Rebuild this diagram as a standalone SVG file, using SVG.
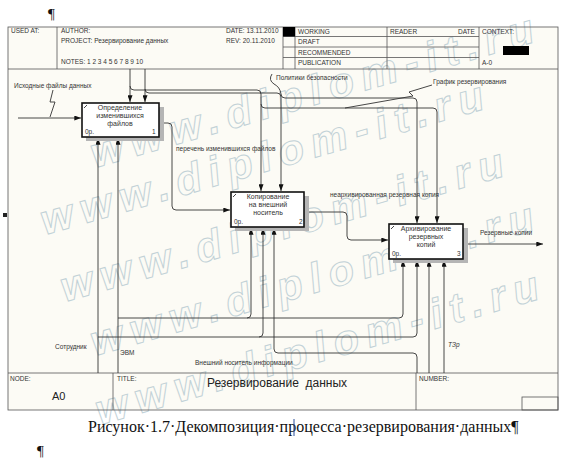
<svg xmlns="http://www.w3.org/2000/svg" width="575" height="460" viewBox="0 0 575 460">
<defs>
<marker id="ah" viewBox="0 0 8 6" refX="8" refY="3" markerWidth="7" markerHeight="5" orient="auto" markerUnits="userSpaceOnUse"><path d="M0,0 L8,3 L0,6 z" fill="#111"/></marker>
</defs>
<style>
.t{font-family:"Liberation Sans",Arial,sans-serif;font-size:6.5px;fill:#333}
.bx{font-family:"Liberation Sans",Arial,sans-serif;font-size:7px;fill:#333;text-anchor:middle}
.ln{fill:none;stroke:#333;stroke-width:0.9}
.ar{marker-end:url(#ah)}
.box{fill:#fff;stroke:#111;stroke-width:1.6}
.sh{fill:#b5b5b5}
.fr{fill:none;stroke:#555;stroke-width:0.8}
.wm{font-family:"Liberation Sans",Arial,sans-serif;font-weight:bold;font-style:italic;font-size:42px;letter-spacing:8px;fill:none;stroke:#b3c8d0;stroke-width:1}
.pg{font-family:"Liberation Serif","Times New Roman",serif;fill:#111}
</style>
<rect x="0" y="0" width="575" height="460" fill="#ffffff"/>
<rect x="8" y="27" width="550" height="383" fill="#fcfbf5"/>

<!-- watermark -->
<g id="watermark" opacity="0.8">
<text class="wm" transform="translate(95,168) rotate(-16)">www.diplom-it.ru</text>
<text class="wm" transform="translate(45,235) rotate(-16)">www.diplom-it.ru</text>
<text class="wm" transform="translate(65,302) rotate(-16)">www.diplom-it.ru</text>
<text class="wm" transform="translate(95,356) rotate(-16)">www.diplom-it.ru</text>
<text class="wm" transform="translate(100,425) rotate(-16)">www.diplom-it.ru</text>
</g>

<!-- frame / header -->
<g id="header">
<rect class="fr" x="8" y="27" width="550" height="383"/>
<line class="fr" x1="8" y1="69" x2="558" y2="69"/>
<line class="fr" x1="57" y1="27" x2="57" y2="69"/>
<line class="fr" x1="283" y1="27" x2="283" y2="69"/>
<line class="fr" x1="295" y1="27" x2="295" y2="69"/>
<line class="fr" x1="387" y1="27" x2="387" y2="69"/>
<line class="fr" x1="479" y1="27" x2="479" y2="69"/>
<line class="fr" x1="283" y1="36.5" x2="479" y2="36.5"/>
<line class="fr" x1="283" y1="47" x2="479" y2="47"/>
<line class="fr" x1="283" y1="57.5" x2="479" y2="57.5"/>
<rect x="283" y="27" width="12" height="9.5" fill="#000"/>
<rect x="503" y="46" width="26" height="9" fill="#000"/>
<text class="t" x="11" y="33">USED AT:</text>
<text class="t" x="61" y="33">AUTHOR:</text>
<text class="t" x="61" y="43">PROJECT:  Резервирование данных</text>
<text class="t" x="61" y="64">NOTES:  1  2  3  4  5  6  7  8  9  10</text>
<text class="t" x="226" y="33">DATE:  13.11.2010</text>
<text class="t" x="226" y="43">REV:   20.11.2010</text>
<text class="t" x="298" y="34">WORKING</text>
<text class="t" x="298" y="44">DRAFT</text>
<text class="t" x="298" y="55">RECOMMENDED</text>
<text class="t" x="298" y="65">PUBLICATION</text>
<text class="t" x="390" y="34">READER</text>
<text class="t" x="458" y="34">DATE</text>
<text class="t" x="482" y="34">CONTEXT:</text>
<text class="t" x="482" y="65">A-0</text>
</g>

<!-- footer -->
<g id="footer">
<line class="fr" x1="8" y1="373" x2="558" y2="373"/>
<line class="fr" x1="113" y1="373" x2="113" y2="410"/>
<line class="fr" x1="416" y1="373" x2="416" y2="410"/>
<rect class="fr" x="522" y="397" width="36" height="13"/>
<text class="t" x="10" y="381">NODE:</text>
<text class="t" x="117" y="381">TITLE:</text>
<text class="t" x="419" y="381">NUMBER:</text>
<text x="52" y="400" style="font-family:'Liberation Sans',Arial,sans-serif;font-size:11px;fill:#222">A0</text>
<text x="277" y="387" text-anchor="middle" style="font-family:'Liberation Sans',Arial,sans-serif;font-size:12px;fill:#222" xml:space="preserve">Резервирование  данных</text>
</g>

<!-- connectors -->
<g id="connectors">
<path class="ln ar" d="M18,118 H81"/>
<path class="ln" d="M53,90 L50,102 L55,102 L50,117"/>
<path class="ln ar" d="M130,69 V102"/>
<path class="ln ar" d="M145,69 V102"/>
<path class="ln ar" d="M130,86 Q130,90 134,90 H257 Q261,90 261,94 V191"/>
<path class="ln ar" d="M145,89 Q145,93 149,93 H277 Q281,93 281,97 V191"/>
<path class="ln ar" d="M281,94 Q281,98 285,98 H413 Q417,98 417,102 V223"/>
<path class="ln ar" d="M261,104 Q261,108 265,108 H433 Q437,108 437,112 V223"/>
<path class="ln" d="M272,74 Q268,80 274,84 Q280,87 281,94"/>
<path class="ln" d="M432,85 L409,92 L413,96 L345,108"/>
<path class="ln ar" d="M159,123 H168 Q172,123 172,127 V206 Q172,210 176,210 H230"/>
<path class="ln ar" d="M304,212 H343 Q347,212 347,216 V236 Q347,240 351,240 H388"/>
<path class="ln ar" d="M463,244 H543"/>
<path class="ln ar" d="M98,373 V138"/>
<path class="ln ar" d="M118,373 V138"/>
<path class="ln ar" d="M118,318 H399 Q403,318 403,314 V260"/>
<path class="ln ar" d="M247,318 Q251,318 251,314 V228"/>
<path class="ln ar" d="M98,337 H413 Q417,337 417,333 V260"/>
<path class="ln ar" d="M259,337 Q263,337 263,333 V228"/>
<path class="ln ar" d="M417,373 V357 Q417,353 413,353 H278 Q274,353 274,349 V228"/>
<path class="ln ar" d="M429,373 V260"/>
<path class="ln ar" d="M444,373 V260"/>
<text class="t" x="14" y="88">Исходные файлы данных</text>
<text class="t" x="276" y="80">Политики безопасности</text>
<text class="t" x="433" y="84">График резервирования</text>
<text class="t" x="176" y="151">перечень изменившихся файлов</text>
<text class="t" x="330" y="197">неархивированная резервная копия</text>
<text class="t" x="480" y="235">Резервные копии</text>
<text class="t" x="55" y="349">Сотрудник</text>
<text class="t" x="120" y="355">ЭВМ</text>
<text class="t" x="195" y="365">Внешний носитель информации</text>
<text class="t" x="448" y="347" font-style="italic">ТЗр</text>
</g>

<!-- boxes -->
<g id="box1">
<rect class="sh" x="86" y="107" width="78" height="34"/>
<rect class="box" x="82" y="103" width="77" height="34"/>
<path class="ln" d="M84,108 L87,105"/>
<text class="bx" x="120" y="110">Определение</text>
<text class="bx" x="120" y="118">изменившихся</text>
<text class="bx" x="120" y="126">файлов</text>
<text class="t" x="85" y="134">0р.</text>
<text class="t" x="152" y="134">1</text>
</g>
<g id="box2">
<rect class="sh" x="235" y="196" width="74" height="35"/>
<rect class="box" x="231" y="192" width="73" height="35"/>
<path class="ln" d="M233,197 L236,194"/>
<text class="bx" x="268" y="199">Копирование</text>
<text class="bx" x="268" y="207">на внешний</text>
<text class="bx" x="268" y="215">носитель</text>
<text class="t" x="234" y="224">0р.</text>
<text class="t" x="299" y="224">2</text>
</g>
<g id="box3">
<rect class="sh" x="393" y="228" width="75" height="35"/>
<rect class="box" x="389" y="224" width="74" height="35"/>
<path class="ln" d="M391,229 L394,226"/>
<text class="bx" x="426" y="231">Архивирование</text>
<text class="bx" x="426" y="239">резервных</text>
<text class="bx" x="426" y="247">копий</text>
<text class="t" x="392" y="256">0р.</text>
<text class="t" x="457" y="256">3</text>
</g>

<!-- document marks -->
<g id="page">
<text class="pg" x="48" y="19" font-size="15">¶</text>
<rect x="3" y="213" width="4" height="4" fill="#222"/>
<text class="pg" x="88" y="432" font-size="16">Рисунок·1.7·Декомпозиция·процесса·резервирования·данных¶</text>
<line x1="294" y1="419" x2="294" y2="436" stroke="#2a4f9a" stroke-width="1"/>
<text class="pg" x="37" y="456" font-size="15">¶</text>
</g>
</svg>
